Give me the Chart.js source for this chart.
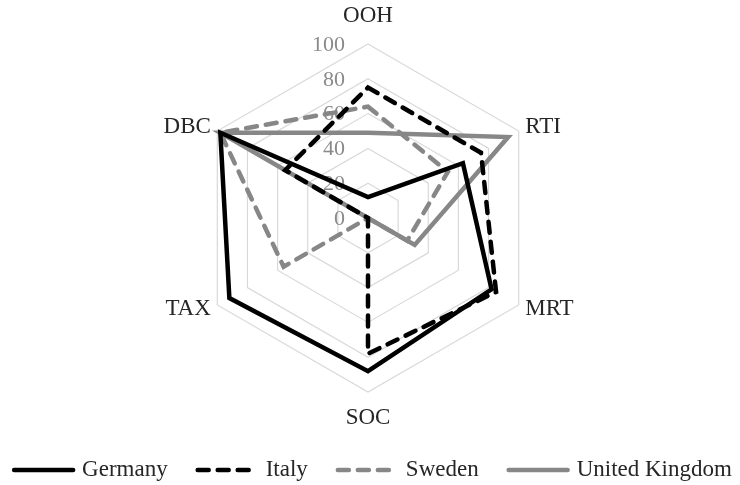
<!DOCTYPE html>
<html><head><meta charset="utf-8">
<script src="https://cdn.jsdelivr.net/npm/chart.js@4/dist/chart.umd.min.js"></script>
<style>html,body{margin:0;padding:0;background:#fff}canvas{display:block}</style>
</head><body>
<canvas id="c" width="740" height="485"></canvas>
<script>
const categories = ['OOH', 'RTI', 'MRT', 'SOC', 'TAX', 'DBC'];
const germany = [12, 63, 82, 88, 92, 98];
const italy = [75, 75, 85, 78, 0, 55];
const sweden = [64, 53, 26, 0, 56, 98];
const unitedKingdom = [49, 93, 31, 0, 0, 98];
const seriesNames = ['Germany', 'Italy', 'Sweden', 'United Kingdom'];
const tickValues = [0, 20, 40, 60, 80, 100];
const tickLabels = ['0', '20', '40', '60', '80', '100'];

const SERIF = '"Liberation Serif", "DejaVu Serif", serif';
const DASH = [11, 9];

function makeSet(label, data, color, dash) {
  return {
    label, data,
    borderColor: color, backgroundColor: color,
    borderWidth: 4.5,
    borderDash: dash,
    borderCapStyle: dash.length ? 'round' : 'butt',
    borderJoinStyle: 'miter',
    fill: false, pointRadius: 0, pointHoverRadius: 0, pointHitRadius: 0
  };
}

const labelPad = [28, 7.5, 7.5, 26, 7.5, 7.5];

const tickLabelPlugin = {
  id: 'tickLabelPlugin',
  beforeDatasetsDraw(chart) {
    const s = chart.scales.r, ctx = chart.ctx;
    ctx.save();
    ctx.font = '22px ' + SERIF;
    ctx.fillStyle = '#8a8a8a';
    ctx.textAlign = 'right';
    ctx.textBaseline = 'middle';
    tickValues.forEach((v, i) => {
      const d = s.getDistanceFromCenterForValue(v);
      ctx.fillText(tickLabels[i], s.xCenter - 23, s.yCenter - d + 1);
    });
    ctx.restore();
  }
};

const pointLabelPlugin = {
  id: 'pointLabelPlugin',
  afterDraw(chart) {
    const s = chart.scales.r, ctx = chart.ctx;
    ctx.save();
    ctx.font = '23px ' + SERIF;
    ctx.fillStyle = '#262626';
    ctx.textBaseline = 'middle';
    categories.forEach((lab, i) => {
      const p = s.getPointPosition(i, s.drawingArea + labelPad[i]);
      const dx = p.x - s.xCenter;
      ctx.textAlign = Math.abs(dx) < 1 ? 'center' : (dx > 0 ? 'left' : 'right');
      ctx.fillText(lab, p.x, p.y);
    });
    ctx.restore();
  }
};

const legendPlugin = {
  id: 'customLegend',
  afterDraw(chart) {
    const ctx = chart.ctx;
    const lineLen = 63, gap = 7, itemGap = 28, y = 470;
    ctx.save();
    ctx.font = '23px ' + SERIF;
    const sets = chart.data.datasets;
    const widths = sets.map(d => ctx.measureText(d.label).width);
    const total = widths.reduce((a, b) => a + b, 0) + sets.length * (lineLen + gap) + (sets.length - 1) * itemGap;
    let x = 372 - total / 2;
    sets.forEach((d, i) => {
      ctx.beginPath();
      ctx.strokeStyle = d.borderColor;
      ctx.lineWidth = d.borderWidth;
      ctx.setLineDash(d.borderDash);
      ctx.lineCap = 'round';
      ctx.moveTo(x + 2, y);
      ctx.lineTo(x + lineLen - 2, y);
      ctx.stroke();
      ctx.setLineDash([]);
      ctx.fillStyle = '#262626';
      ctx.textAlign = 'left';
      ctx.textBaseline = 'middle';
      ctx.fillText(d.label, x + lineLen + gap, y);
      x += lineLen + gap + widths[i] + itemGap;
    });
    ctx.restore();
  }
};

new Chart(document.getElementById('c'), {
  type: 'radar',
  data: {
    labels: categories,
    datasets: [
      makeSet(seriesNames[0], germany, '#000000', []),
      makeSet(seriesNames[1], italy, '#000000', DASH),
      makeSet(seriesNames[2], sweden, '#878787', DASH),
      makeSet(seriesNames[3], unitedKingdom, '#878787', [])
    ]
  },
  options: {
    responsive: false,
    animation: false,
    devicePixelRatio: 1,
    layout: { padding: { top: 44, bottom: 93, left: 0, right: 3 } },
    plugins: { legend: { display: false }, tooltip: { enabled: false } },
    scales: {
      r: {
        min: 0, max: 100,
        ticks: { stepSize: 20, display: false },
        grid: { color: '#d9d9d9', lineWidth: 1.2, circular: false },
        angleLines: { display: false },
        pointLabels: { display: false }
      }
    }
  },
  plugins: [tickLabelPlugin, pointLabelPlugin, legendPlugin]
});
</script>
</body></html>
